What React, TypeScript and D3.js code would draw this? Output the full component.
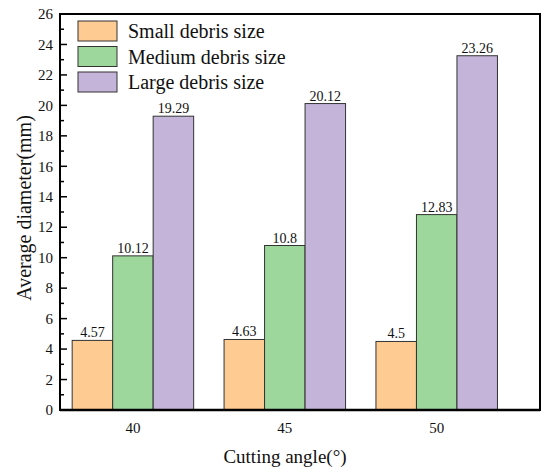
import { useEffect, useRef } from 'react';
import * as d3 from 'd3';

const ANGLES = [40, 45, 50];
const SERIES = ['Small debris size', 'Medium debris size', 'Large debris size'];
const SMALL = [4.57, 4.63, 4.5];
const MEDIUM = [10.12, 10.8, 12.83];
const LARGE = [19.29, 20.12, 23.26];
const Y_TICKS = [0, 2, 4, 6, 8, 10, 12, 14, 16, 18, 20, 22, 24, 26];

const COLORS = ['#fecb92', '#9dd79b', '#c5b4d9'];
const FONT = "'Liberation Serif', 'Times New Roman', serif";

const WIDTH = 550;
const HEIGHT = 475;

export default function App() {
  const svgRef = useRef<SVGSVGElement>(null);

  useEffect(() => {
    if (!svgRef.current) return;
    const svg = d3.select(svgRef.current);
    svg.selectAll('*').remove();

    const margin = { top: 14, right: 10, bottom: 65, left: 60 };
    const x0 = margin.left;
    const x1 = WIDTH - margin.right;
    const y0 = HEIGHT - margin.bottom;
    const y1 = margin.top;

    const values = [SMALL, MEDIUM, LARGE];

    // numeric x axis like the original (Origin-style), groups centred on the angle
    const x = d3.scaleLinear().domain([37.6, 53.4]).range([x0, x1]);
    const inner = d3.scaleBand().domain(SERIES).range([-60.75, 60.75]).padding(0);
    const y = d3.scaleLinear().domain([0, 26]).range([y0, y1]);

    const g = svg.append('g').attr('font-family', FONT).attr('fill', '#111');

    // bars
    SERIES.forEach((s, si) => {
      ANGLES.forEach((a, ai) => {
        const v = values[si][ai];
        const bx = x(a) + (inner(s) || 0);
        g.append('rect')
          .attr('x', bx)
          .attr('y', y(v))
          .attr('width', inner.bandwidth())
          .attr('height', y(0) - y(v))
          .attr('fill', COLORS[si])
          .attr('stroke', '#333')
          .attr('stroke-width', 1);

        g.append('text')
          .attr('x', bx + inner.bandwidth() / 2)
          .attr('y', y(v) - 3)
          .attr('text-anchor', 'middle')
          .attr('font-size', 14)
          .text(String(v));
      });
    });

    // minor ticks (odd values), inward
    d3.range(1, 26, 2).forEach(t => {
      g.append('line')
        .attr('x1', x0).attr('x2', x0 + 4)
        .attr('y1', y(t)).attr('y2', y(t))
        .attr('stroke', '#000').attr('stroke-width', 1.5);
    });

    // major ticks + labels
    Y_TICKS.forEach(t => {
      g.append('line')
        .attr('x1', x0).attr('x2', x0 + 7)
        .attr('y1', y(t)).attr('y2', y(t))
        .attr('stroke', '#000').attr('stroke-width', 1.5);
      g.append('text')
        .attr('x', x0 - 7)
        .attr('y', y(t))
        .attr('dy', '0.35em')
        .attr('text-anchor', 'end')
        .attr('font-size', 15)
        .text(String(t));
    });

    // x labels
    ANGLES.forEach(a => {
      g.append('text')
        .attr('x', x(a))
        .attr('y', y0 + 23)
        .attr('text-anchor', 'middle')
        .attr('font-size', 15)
        .text(String(a));
    });

    // frame
    g.append('rect')
      .attr('x', x0).attr('y', y1)
      .attr('width', x1 - x0).attr('height', y0 - y1)
      .attr('fill', 'none')
      .attr('stroke', '#000')
      .attr('stroke-width', 2);
    g.append('line')
      .attr('x1', x0).attr('x2', x1)
      .attr('y1', y0).attr('y2', y0)
      .attr('stroke', '#000').attr('stroke-width', 2.5);

    // legend
    const legend = g.append('g').attr('transform', 'translate(78,21)');
    SERIES.forEach((s, i) => {
      const row = legend.append('g').attr('transform', `translate(0,${i * 25.5})`);
      row.append('rect')
        .attr('width', 39).attr('height', 20)
        .attr('fill', COLORS[i])
        .attr('stroke', '#333').attr('stroke-width', 1);
      row.append('text')
        .attr('x', 50).attr('y', 17)
        .attr('font-size', 20)
        .text(s);
    });

    // axis titles
    g.append('text')
      .attr('x', (x0 + x1) / 2 - 15)
      .attr('y', 463)
      .attr('text-anchor', 'middle')
      .attr('font-size', 19)
      .text('Cutting angle(°)');

    g.append('text')
      .attr('transform', 'translate(31,208) rotate(-90)')
      .attr('text-anchor', 'middle')
      .attr('font-size', 20)
      .text('Average diameter(mm)');
  }, []);

  return (
    <svg
      ref={svgRef}
      width={WIDTH}
      height={HEIGHT}
      style={{ position: 'absolute', left: 0, top: 0, background: '#fff' }}
    />
  );
}
